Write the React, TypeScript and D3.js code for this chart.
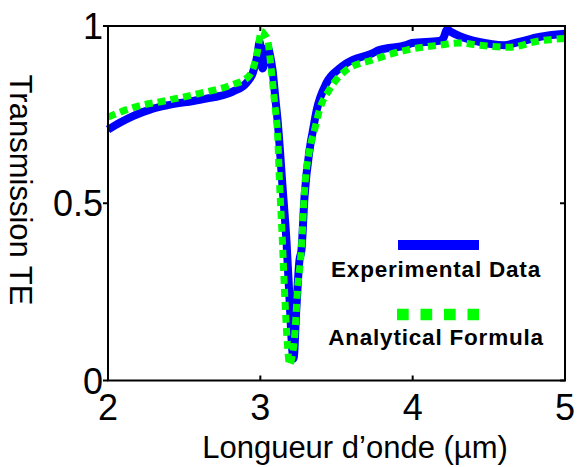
import React from 'react';
import * as d3 from 'd3';

const expX = [2.0, 2.08, 2.164, 2.275, 2.386, 2.602, 2.819, 2.91, 2.95, 2.982, 2.995, 3.015, 3.048, 3.067, 3.08, 3.1, 3.113, 3.146, 3.172, 3.192, 3.211, 3.218, 3.236, 3.257, 3.27, 3.29, 3.323, 3.343, 3.37, 3.434, 3.519, 3.565, 3.735, 3.78, 3.958, 3.997, 4.174, 4.2, 4.227, 4.253, 4.305, 4.436, 4.6, 4.698, 4.829, 5.0];
const expY = [0.708, 0.728, 0.746, 0.764, 0.776, 0.792, 0.815, 0.84, 0.867, 0.92, 0.955, 0.88, 0.94, 0.91, 0.876, 0.79, 0.735, 0.545, 0.39, 0.227, 0.08, 0.062, 0.2, 0.34, 0.368, 0.518, 0.65, 0.7, 0.763, 0.839, 0.88, 0.895, 0.923, 0.932, 0.946, 0.952, 0.958, 0.965, 0.99, 0.983, 0.972, 0.955, 0.946, 0.955, 0.969, 0.978];

// Analytical formula (green)
const anaX = [2.0, 2.164, 2.386, 2.602, 2.819, 2.917, 2.963, 2.982, 3.007, 3.028, 3.048, 3.072, 3.094, 3.113, 3.126, 3.144, 3.159, 3.179, 3.192, 3.205, 3.225, 3.244, 3.269, 3.29, 3.323, 3.356, 3.388, 3.453, 3.565, 3.735, 3.958, 4.174, 4.305, 4.436, 4.633, 4.829, 5.0];
const anaY = [0.743, 0.77, 0.79, 0.81, 0.835, 0.855, 0.895, 0.93, 0.985, 0.975, 0.96, 0.876, 0.782, 0.697, 0.56, 0.4, 0.25, 0.095, 0.044, 0.06, 0.123, 0.255, 0.368, 0.537, 0.65, 0.707, 0.763, 0.82, 0.876, 0.904, 0.932, 0.946, 0.952, 0.946, 0.94, 0.958, 0.965];

const xTicks = [2, 3, 4, 5];
const yTicks = [0, 0.5, 1];
const seriesNames = ['Experimental Data', 'Analytical Formula'];

const W = 577;
const H = 467;
const margin = { top: 26, right: 12, bottom: 86.5, left: 108 };
const FONT = '"Liberation Sans", Arial, Helvetica, sans-serif';

const App = () => {
  const x = d3.scaleLinear().domain([2, 5]).range([margin.left, W - margin.right]);
  const y = d3.scaleLinear().domain([0, 1]).range([H - margin.bottom, margin.top]);

  const makeLine = d3.line<[number, number]>()
    .x(d => x(d[0]))
    .y(d => y(d[1]))
    .curve(d3.curveMonotoneX);

  const expPath = makeLine(expX.map((v, i) => [v, expY[i]] as [number, number]));
  const anaPath = makeLine(anaX.map((v, i) => [v, anaY[i]] as [number, number]));

  const [x0, x1] = x.range();
  const [yb, yt] = y.range();
  const tick = 5;

  return (
    <svg width={W} height={H} style={{ position: 'absolute', left: 0, top: 0, background: '#fff' }}
      fontFamily={FONT}>
      {/* curves */}
      <path d={expPath || ''} fill="none" stroke="#0000ff" strokeWidth={8} strokeLinejoin="round" />
      <path d={anaPath || ''} fill="none" stroke="#00ff00" strokeWidth={7} strokeDasharray="8,5" />

      {/* frame */}
      <rect x={x0} y={yt} width={x1 - x0} height={yb - yt} fill="none" stroke="#000" strokeWidth={2} />

      {/* x ticks */}
      {xTicks.map(t => (
        <g key={'x' + t}>
          <line x1={x(t)} x2={x(t)} y1={yb} y2={yb - tick} stroke="#000" strokeWidth={2} />
          <line x1={x(t)} x2={x(t)} y1={yt} y2={yt + tick} stroke="#000" strokeWidth={2} />
          <text x={x(t)} y={yb + 39.5} textAnchor="middle" fontSize={36}>{t}</text>
        </g>
      ))}

      {/* y ticks */}
      {yTicks.map(t => (
        <g key={'y' + t}>
          <line x1={x0} x2={x0 - tick} y1={y(t)} y2={y(t)} stroke="#000" strokeWidth={2} />
          <line x1={x1} x2={x1 - tick} y1={y(t)} y2={y(t)} stroke="#000" strokeWidth={2} />
          <text x={x0 - 5} y={y(t) + 13} textAnchor="end" fontSize={36}>{t}</text>
        </g>
      ))}

      {/* axis titles */}
      <text x={355} y={458} textAnchor="middle" fontSize={31}>Longueur d’onde (µm)</text>
      <text transform="translate(10,190) rotate(90)" textAnchor="middle" fontSize={31}>Transmission TE</text>

      {/* legend */}
      <line x1={398} x2={479} y1={245} y2={245} stroke="#0000ff" strokeWidth={10} />
      <text x={436} y={277} textAnchor="middle" fontSize={22.5} fontWeight="bold" letterSpacing={0.8}>{seriesNames[0]}</text>
      <line x1={397} x2={479} y1={314.5} y2={314.5} stroke="#00ff00" strokeWidth={11.5} strokeDasharray="11.7,11.8" />
      <text x={436} y={345} textAnchor="middle" fontSize={22.5} fontWeight="bold" letterSpacing={0.8}>{seriesNames[1]}</text>
    </svg>
  );
};

export default App;
